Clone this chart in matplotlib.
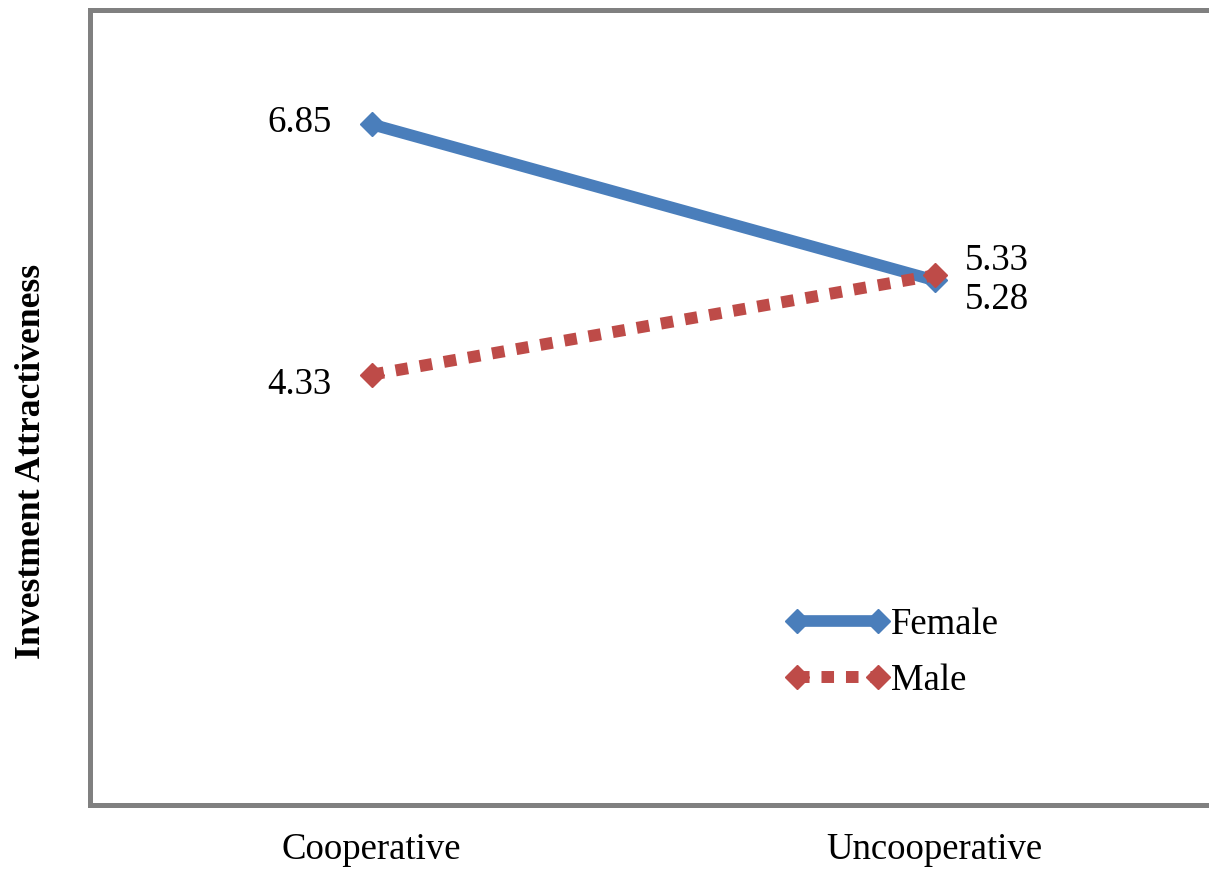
import matplotlib
matplotlib.use("Agg")
import matplotlib.pyplot as plt

categories = ["Cooperative", "Uncooperative"]
female = [6.85, 5.28]
male = [4.33, 5.33]
series_names = ["Female", "Male"]

plt.rcParams['font.family'] = ['Liberation Serif', 'DejaVu Serif']

W, H = 1209, 869
fig = plt.figure(figsize=(W / 100, H / 100), dpi=100)
left, right, top, bottom = 90, 1216, 10, 805
ax = fig.add_axes([left / W, 1 - bottom / H, (right - left) / W, (bottom - top) / H])

blue = "#4A7EBB"
red = "#BE4B48"
x = list(range(len(categories)))
FS = 26.5

ax.plot(x, female, color=blue, lw=8.4, solid_capstyle='butt', marker='D', ms=12,
        label=series_names[0], zorder=3)
ax.plot(x, male, color=red, lw=8.6, linestyle=(0, (1.05, 1.0)), dash_capstyle='butt',
        marker='D', ms=12, label=series_names[1], zorder=4)

ax.set_xlim(-0.5, 1.5)
ax.set_ylim(0, 8)
ax.set_xticks(x)
ax.set_xticklabels(categories, fontsize=FS)
ax.set_yticks([])
ax.tick_params(axis='x', length=0, pad=20)

for s in ax.spines.values():
    s.set_color("#808080")
    s.set_linewidth(3.6)

ax.set_ylabel("Investment Attractiveness", fontsize=25.7, fontweight='bold', va='center')
ax.yaxis.set_label_coords((32 - left) / (right - left), (bottom - 461) / (bottom - top))

def lab(xi, yi, txt, dx, dy, ha):
    ax.annotate(txt, (xi, yi), xytext=(dx, dy), textcoords='offset pixels',
                ha=ha, va='center', fontsize=FS)

lab(0, female[0], f"{female[0]:.2f}", -40, 2, 'right')
lab(0, male[0], f"{male[0]:.2f}", -40, -10, 'right')
lab(1, male[1], f"{male[1]:.2f}", 30, 15, 'left')
lab(1, female[1], f"{female[1]:.2f}", 30, -19, 'left')

leg = ax.legend(loc='upper left', bbox_to_anchor=((786 - left) / (right - left), (bottom - 607) / (bottom - top)),
                frameon=False, numpoints=2, fontsize=FS, handlelength=2.8,
                handletextpad=0.05, labelspacing=0.6, borderpad=0, borderaxespad=0)

fig.savefig("out.png", dpi=100)
